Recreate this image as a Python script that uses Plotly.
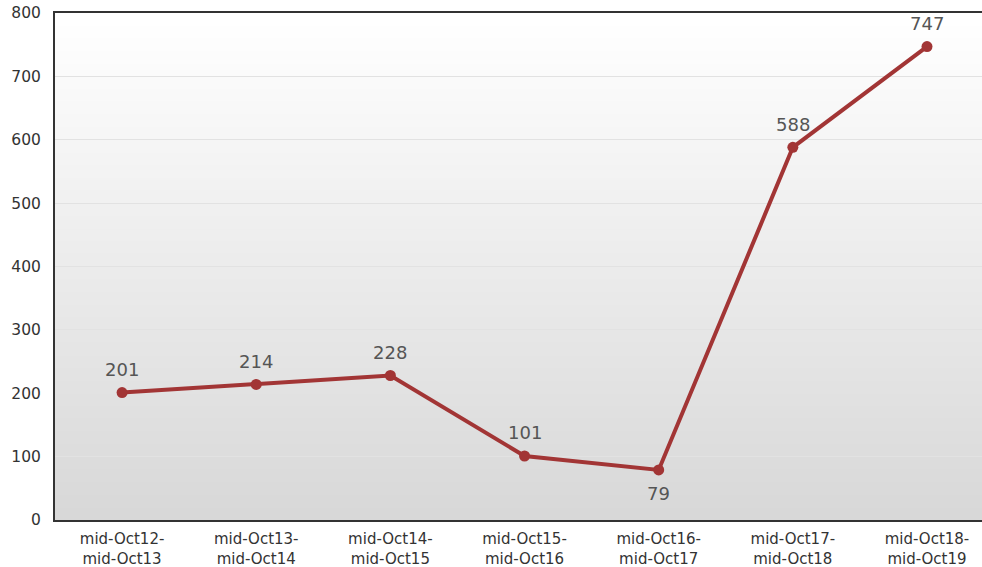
import plotly.graph_objects as go

# Yearly totals, mid-October to mid-October
periods = ["mid-Oct12-<br>mid-Oct13", "mid-Oct13-<br>mid-Oct14", "mid-Oct14-<br>mid-Oct15",
           "mid-Oct15-<br>mid-Oct16", "mid-Oct16-<br>mid-Oct17", "mid-Oct17-<br>mid-Oct18",
           "mid-Oct18-<br>mid-Oct19"]
values = [201, 214, 228, 101, 79, 588, 747]
label_above = [True, True, True, True, False, True, True]

FONT = "Verdana, DejaVu Sans, sans-serif"
LINE_COLOR = "#a23535"

xs = list(range(len(periods)))

fig = go.Figure()
fig.add_trace(go.Scatter(
    x=xs, y=values,
    mode="lines+markers",
    line=dict(color=LINE_COLOR, width=4),
    marker=dict(color=LINE_COLOR, size=11),
    hoverinfo="skip",
))

# Value labels above (or below) each point
for x, v, above in zip(xs, values, label_above):
    fig.add_annotation(
        x=x, y=v, text=str(v), showarrow=False,
        yshift=23 if above else -24,
        font=dict(family=FONT, size=18, color="#555555"),
    )

# Vertical white-to-grey gradient behind the plot area
steps = 80
shapes = []
for i in range(steps):
    t = i / (steps - 1)
    c = round(216 + (255 - 216) * t)
    shapes.append(dict(
        type="rect", xref="x domain", yref="y domain",
        x0=0, x1=1, y0=i / steps, y1=(i + 1) / steps + 0.002,
        fillcolor=f"rgb({c},{c},{c})", line=dict(width=0), layer="below",
    ))

fig.update_layout(
    width=982, height=567,
    margin=dict(l=55, r=0, t=13, b=47),
    paper_bgcolor="white",
    plot_bgcolor="rgba(0,0,0,0)",
    showlegend=False,
    shapes=shapes,
    font=dict(family=FONT, color="#333333"),
)
fig.update_xaxes(
    range=[-0.5, 6.41],
    tickmode="array", tickvals=xs, ticktext=periods,
    tickfont=dict(family=FONT, size=15, color="#333333"),
    showgrid=False, zeroline=False,
    showline=True, linecolor="#333333", linewidth=2, mirror=True,
    ticks="", ticklabelstandoff=4,
)
fig.update_yaxes(
    range=[0, 800], dtick=100,
    tickfont=dict(family=FONT, size=15.5, color="#333333"),
    showgrid=True, gridcolor="#e2e2e2", gridwidth=1,
    zeroline=False,
    showline=True, linecolor="#333333", linewidth=2,
    ticks="", ticklabelstandoff=9,
)

fig.write_html("out.html")
